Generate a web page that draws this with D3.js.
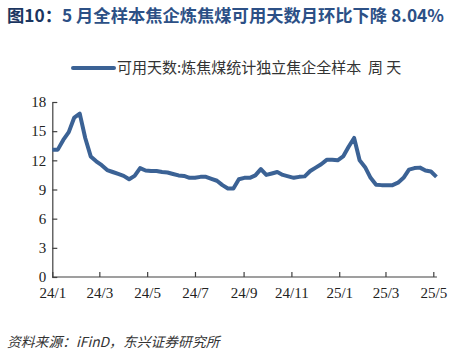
<!DOCTYPE html>
<html>
<head>
<meta charset="utf-8">
<script src="https://cdn.jsdelivr.net/npm/d3@7"></script>
<style>
  html, body { margin: 0; padding: 0; background: #ffffff; }
  svg { display: block; }
</style>
</head>
<body>
<div id="chart"></div>
<script>
// ---- Data ----
const titlePrefix = "图10：";
const titleRest = "5 月全样本焦企炼焦煤可用天数月环比下降 8.04%";
const seriesName = "可用天数:炼焦煤统计独立焦企全样本  周 天";
const sourceText = "资料来源：iFinD，东兴证券研究所";
const firstWeek = "2024-01-01";
const values = [
  13.1, 13.1, 14.1, 14.9, 16.4, 16.8, 14.3, 12.4, 11.9, 11.5,
  11.0, 10.8, 10.6, 10.4, 10.05, 10.4, 11.2, 10.95, 10.9, 10.9,
  10.8, 10.75, 10.6, 10.45, 10.4, 10.2, 10.2, 10.3, 10.3, 10.1,
  9.9, 9.45, 9.1, 9.1, 10.05, 10.2, 10.2, 10.45, 11.1, 10.5,
  10.65, 10.8, 10.5, 10.35, 10.2, 10.3, 10.35, 10.9, 11.25, 11.6,
  12.05, 12.05, 12.0, 12.4, 13.4, 14.3, 12.0, 11.3, 10.2, 9.5,
  9.45, 9.45, 9.45, 9.7, 10.2, 11.05, 11.2, 11.25, 10.95, 10.85,
  10.3
];
const yTicks = [0, 3, 6, 9, 12, 15, 18];
const xTickLabels = ["24/1", "24/3", "24/5", "24/7", "24/9", "24/11", "25/1", "25/3", "25/5"];

// ---- Layout ----
const W = 463, H = 357;
const parse = d3.timeParse("%Y-%m-%d");
const start = parse(firstWeek);
const data = values.map((v, i) => ({ date: d3.timeWeek.offset(start, i), value: v }));
const tickDates = xTickLabels.map(s => {
  const [yy, mm] = s.split("/");
  return new Date(2000 + +yy, +mm - 1, 1);
});

const svg = d3.select("#chart").append("svg").attr("width", W).attr("height", H);

const x = d3.scaleTime()
  .domain([tickDates[0], tickDates[tickDates.length - 1]])
  .range([52.3, 433.3]);
const y = d3.scaleLinear().domain([0, 18]).range([277, 102]);

const axisColor = "#404040";
const serif = "'Liberation Serif', 'Times New Roman', serif";
const cjk = "'Noto Sans CJK SC', 'Noto Sans', sans-serif";

// Title
const title = svg.append("text")
  .attr("x", 7).attr("y", 22)
  .attr("font-family", cjk).attr("font-weight", "bold").attr("font-size", 17.3);
title.append("tspan").attr("fill", "#1B3560").text(titlePrefix);
title.append("tspan").attr("fill", "#2C5086").text(titleRest);

// Legend
const lineColor = "#3B6295";
svg.append("line")
  .attr("x1", 73).attr("x2", 114).attr("y1", 68).attr("y2", 68)
  .attr("stroke", lineColor).attr("stroke-width", 4).attr("stroke-linecap", "round");
svg.append("text")
  .attr("x", 117).attr("y", 73)
  .attr("font-family", cjk).attr("font-size", 15).attr("fill", "#333")
  .attr("xml:space", "preserve")
  .style("white-space", "pre")
  .text(seriesName);

// Axes
const xEnd = x(data[data.length - 1].date);
const xAxis = svg.append("g")
  .attr("transform", `translate(0,${y(0)})`)
  .call(d3.axisBottom(x).tickValues(tickDates).tickSizeInner(-5).tickSizeOuter(0)
    .tickPadding(10).tickFormat((d, i) => xTickLabels[i]));
xAxis.select(".domain").remove();
xAxis.append("line").attr("x1", x.range()[0]).attr("x2", xEnd + 0.5)
  .attr("stroke", axisColor).attr("stroke-width", 1.2);
xAxis.selectAll(".tick line").attr("stroke", axisColor).attr("stroke-width", 1.2);
xAxis.selectAll(".tick text").attr("font-family", serif).attr("font-size", 15)
  .attr("fill", "#222");

const yAxis = svg.append("g")
  .attr("transform", `translate(${x.range()[0]},0)`)
  .call(d3.axisLeft(y).tickValues(yTicks).tickSizeInner(-5).tickSizeOuter(0).tickPadding(6));
yAxis.select(".domain").attr("stroke", axisColor).attr("stroke-width", 1.2);
yAxis.selectAll(".tick line").attr("stroke", axisColor).attr("stroke-width", 1.2);
yAxis.selectAll(".tick text").attr("font-family", serif).attr("font-size", 15)
  .attr("fill", "#222");

// Line
svg.append("path")
  .datum(data)
  .attr("fill", "none")
  .attr("stroke", lineColor)
  .attr("stroke-width", 4)
  .attr("stroke-linejoin", "round")
  .attr("d", d3.line().x(d => x(d.date)).y(d => y(d.value)));

// Source
svg.append("text")
  .attr("x", 7).attr("y", 347)
  .attr("font-family", cjk).attr("font-size", 13.8).attr("font-style", "italic")
  .attr("fill", "#333")
  .text(sourceText);
</script>
</body>
</html>
